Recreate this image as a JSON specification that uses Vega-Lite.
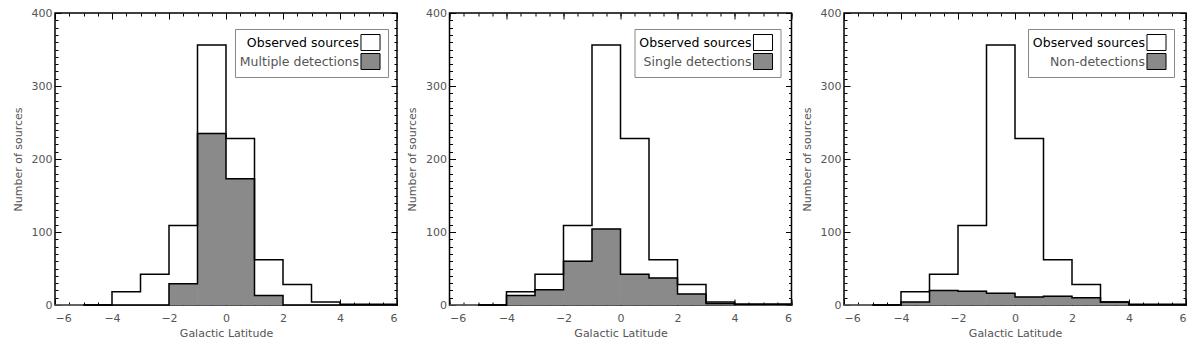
{
  "$schema": "https://vega.github.io/schema/vega-lite/v6.json",
  "background": "white",
  "padding": {"left": 11, "top": 6, "right": 0, "bottom": 0},
  "datasets": {
    "p1": [
      {"series": "Observed sources", "lo": -6, "hi": -5, "count": 0},
      {"series": "Observed sources", "lo": -5, "hi": -4, "count": 0},
      {"series": "Observed sources", "lo": -4, "hi": -3, "count": 18},
      {"series": "Observed sources", "lo": -3, "hi": -2, "count": 42},
      {"series": "Observed sources", "lo": -2, "hi": -1, "count": 109},
      {"series": "Observed sources", "lo": -1, "hi": 0, "count": 356},
      {"series": "Observed sources", "lo": 0, "hi": 1, "count": 228},
      {"series": "Observed sources", "lo": 1, "hi": 2, "count": 62},
      {"series": "Observed sources", "lo": 2, "hi": 3, "count": 28},
      {"series": "Observed sources", "lo": 3, "hi": 4, "count": 4},
      {"series": "Observed sources", "lo": 4, "hi": 5, "count": 1},
      {"series": "Observed sources", "lo": 5, "hi": 6, "count": 1},
      {"series": "Multiple detections", "lo": -6, "hi": -5, "count": 0},
      {"series": "Multiple detections", "lo": -5, "hi": -4, "count": 0},
      {"series": "Multiple detections", "lo": -4, "hi": -3, "count": 0},
      {"series": "Multiple detections", "lo": -3, "hi": -2, "count": 0},
      {"series": "Multiple detections", "lo": -2, "hi": -1, "count": 29},
      {"series": "Multiple detections", "lo": -1, "hi": 0, "count": 235},
      {"series": "Multiple detections", "lo": 0, "hi": 1, "count": 173},
      {"series": "Multiple detections", "lo": 1, "hi": 2, "count": 13},
      {"series": "Multiple detections", "lo": 2, "hi": 3, "count": 0},
      {"series": "Multiple detections", "lo": 3, "hi": 4, "count": 0},
      {"series": "Multiple detections", "lo": 4, "hi": 5, "count": 0},
      {"series": "Multiple detections", "lo": 5, "hi": 6, "count": 0}
    ],
    "p2": [
      {"series": "Observed sources", "lo": -6, "hi": -5, "count": 0},
      {"series": "Observed sources", "lo": -5, "hi": -4, "count": 0},
      {"series": "Observed sources", "lo": -4, "hi": -3, "count": 18},
      {"series": "Observed sources", "lo": -3, "hi": -2, "count": 42},
      {"series": "Observed sources", "lo": -2, "hi": -1, "count": 109},
      {"series": "Observed sources", "lo": -1, "hi": 0, "count": 356},
      {"series": "Observed sources", "lo": 0, "hi": 1, "count": 228},
      {"series": "Observed sources", "lo": 1, "hi": 2, "count": 62},
      {"series": "Observed sources", "lo": 2, "hi": 3, "count": 28},
      {"series": "Observed sources", "lo": 3, "hi": 4, "count": 4},
      {"series": "Observed sources", "lo": 4, "hi": 5, "count": 1},
      {"series": "Observed sources", "lo": 5, "hi": 6, "count": 1},
      {"series": "Single detections", "lo": -6, "hi": -5, "count": 0},
      {"series": "Single detections", "lo": -5, "hi": -4, "count": 0},
      {"series": "Single detections", "lo": -4, "hi": -3, "count": 13},
      {"series": "Single detections", "lo": -3, "hi": -2, "count": 21},
      {"series": "Single detections", "lo": -2, "hi": -1, "count": 60},
      {"series": "Single detections", "lo": -1, "hi": 0, "count": 104},
      {"series": "Single detections", "lo": 0, "hi": 1, "count": 42},
      {"series": "Single detections", "lo": 1, "hi": 2, "count": 37},
      {"series": "Single detections", "lo": 2, "hi": 3, "count": 15},
      {"series": "Single detections", "lo": 3, "hi": 4, "count": 2},
      {"series": "Single detections", "lo": 4, "hi": 5, "count": 1},
      {"series": "Single detections", "lo": 5, "hi": 6, "count": 1}
    ],
    "p3": [
      {"series": "Observed sources", "lo": -6, "hi": -5, "count": 0},
      {"series": "Observed sources", "lo": -5, "hi": -4, "count": 0},
      {"series": "Observed sources", "lo": -4, "hi": -3, "count": 18},
      {"series": "Observed sources", "lo": -3, "hi": -2, "count": 42},
      {"series": "Observed sources", "lo": -2, "hi": -1, "count": 109},
      {"series": "Observed sources", "lo": -1, "hi": 0, "count": 356},
      {"series": "Observed sources", "lo": 0, "hi": 1, "count": 228},
      {"series": "Observed sources", "lo": 1, "hi": 2, "count": 62},
      {"series": "Observed sources", "lo": 2, "hi": 3, "count": 28},
      {"series": "Observed sources", "lo": 3, "hi": 4, "count": 4},
      {"series": "Observed sources", "lo": 4, "hi": 5, "count": 1},
      {"series": "Observed sources", "lo": 5, "hi": 6, "count": 1},
      {"series": "Non-detections", "lo": -6, "hi": -5, "count": 0},
      {"series": "Non-detections", "lo": -5, "hi": -4, "count": 0},
      {"series": "Non-detections", "lo": -4, "hi": -3, "count": 4},
      {"series": "Non-detections", "lo": -3, "hi": -2, "count": 20},
      {"series": "Non-detections", "lo": -2, "hi": -1, "count": 19},
      {"series": "Non-detections", "lo": -1, "hi": 0, "count": 16},
      {"series": "Non-detections", "lo": 0, "hi": 1, "count": 11},
      {"series": "Non-detections", "lo": 1, "hi": 2, "count": 12},
      {"series": "Non-detections", "lo": 2, "hi": 3, "count": 10},
      {"series": "Non-detections", "lo": 3, "hi": 4, "count": 4},
      {"series": "Non-detections", "lo": 4, "hi": 5, "count": 0},
      {"series": "Non-detections", "lo": 5, "hi": 6, "count": 0}
    ]
  },
  "config": {
    "view": {"stroke": "black", "strokeWidth": 1.5},
    "axis": {
      "domain": false, "grid": false, "tickColor": "black", "tickWidth": 1,
      "labelColor": "#555", "labelFont": "DejaVu Sans", "labelFontSize": 11,
      "titleFont": "DejaVu Sans", "titleFontSize": 11, "titleFontWeight": "normal", "titleColor": "#555"
    },
    "legend": {
      "orient": "none", "title": null, "symbolType": "M-1.19,-1H1.19V1H-1.19Z", "symbolSize": 256,
      "symbolStrokeColor": "black", "symbolStrokeWidth": 1, "symbolOpacity": 1,
      "labelFont": "DejaVu Sans", "labelFontSize": 12.5, "labelAlign": "right", "labelOffset": -20,
      "strokeColor": "#888", "fillColor": "white", "padding": 5, "rowPadding": -8.5, "labelLimit": 300
    }
  },
  "spacing": 52.5,
  "bounds": "flush",
  "resolve": {"scale": {"fill": "independent"}, "legend": {"fill": "independent"}},
  "hconcat": [
    {
      "width": 342, "height": 292,
      "data": {"name": "p1"},
      "resolve": {"axis": {"x": "independent", "y": "independent"}},
      "layer": [
        {
          "transform": [{"filter": "datum.series == 'Observed sources'"}],
          "mark": {"type": "rect", "strokeWidth": 0},
          "encoding": {
            "x": {"field": "lo", "type": "quantitative", "scale": {"domain": [-6, 6], "nice": false, "zero": false},
                  "axis": {"orient": "bottom", "values": [-6, -4, -2, 0, 2, 4, 6], "format": "d", "tickSize": -6, "labelPadding": 13, "title": "Galactic Latitude", "titlePadding": 4}},
            "x2": {"field": "hi"},
            "y": {"field": "count", "type": "quantitative", "scale": {"domain": [0, 400], "nice": false},
                  "axis": {"orient": "left", "values": [0, 100, 200, 300, 400], "tickSize": -6, "labelPadding": 9, "title": "Number of sources", "titlePadding": 8}},
            "y2": {"datum": 0},
            "fill": {"field": "series", "type": "nominal",
                     "scale": {"domain": ["Observed sources", "Multiple detections"], "range": ["white", "#8a8a8a"]},
                     "legend": {"legendX": 180, "legendY": 16, "symbolOffset": 122, "labelOffset": -20, "rowPadding": -8.5, "symbolStrokeColor": "black",
                                "encode": {"labels": {"update": {"fill": {"signal": "datum.label == 'Observed sources' ? 'black' : '#555'"}}}}}}
          }
        },
        {
          "transform": [{"filter": "datum.series != 'Observed sources'"}],
          "mark": {"type": "rect", "stroke": "#8a8a8a", "strokeWidth": 0.6},
          "encoding": {
            "x": {"field": "lo", "type": "quantitative", "axis": {"orient": "bottom", "values": [-6, -5.5, -5, -4.5, -4, -3.5, -3, -2.5, -2, -1.5, -1, -0.5, 0, 0.5, 1, 1.5, 2, 2.5, 3, 3.5, 4, 4.5, 5, 5.5, 6], "tickSize": -3, "labels": false, "title": null}},
            "x2": {"field": "hi"},
            "y": {"field": "count", "type": "quantitative", "axis": {"orient": "left", "values": [0, 10, 20, 30, 40, 50, 60, 70, 80, 90, 100, 110, 120, 130, 140, 150, 160, 170, 180, 190, 200, 210, 220, 230, 240, 250, 260, 270, 280, 290, 300, 310, 320, 330, 340, 350, 360, 370, 380, 390, 400], "tickSize": -3, "labels": false, "title": null}},
            "y2": {"datum": 0},
            "fill": {"field": "series", "type": "nominal"}
          }
        },
        {
          "transform": [{"filter": "datum.series == 'Observed sources'"}],
          "mark": {"type": "line", "interpolate": "step-before", "color": "black", "strokeWidth": 1.5},
          "encoding": {
            "x": {"field": "hi", "type": "quantitative", "axis": {"orient": "top", "values": [-6, -4, -2, 0, 2, 4, 6], "tickSize": -6, "labels": false, "title": null}},
            "y": {"field": "count", "type": "quantitative", "axis": {"orient": "right", "values": [0, 100, 200, 300, 400], "tickSize": -6, "labels": false, "title": null}}
          }
        },
        {
          "transform": [{"filter": "datum.series != 'Observed sources'"}],
          "mark": {"type": "line", "interpolate": "step-before", "color": "black", "strokeWidth": 1.5},
          "encoding": {
            "x": {"field": "hi", "type": "quantitative", "axis": {"orient": "top", "values": [-6, -5.5, -5, -4.5, -4, -3.5, -3, -2.5, -2, -1.5, -1, -0.5, 0, 0.5, 1, 1.5, 2, 2.5, 3, 3.5, 4, 4.5, 5, 5.5, 6], "tickSize": -3, "labels": false, "title": null}},
            "y": {"field": "count", "type": "quantitative", "axis": {"orient": "right", "values": [0, 10, 20, 30, 40, 50, 60, 70, 80, 90, 100, 110, 120, 130, 140, 150, 160, 170, 180, 190, 200, 210, 220, 230, 240, 250, 260, 270, 280, 290, 300, 310, 320, 330, 340, 350, 360, 370, 380, 390, 400], "tickSize": -3, "labels": false, "title": null}}
          }
        }
      ]
    },
    {
      "width": 342, "height": 292,
      "data": {"name": "p2"},
      "resolve": {"axis": {"x": "independent", "y": "independent"}},
      "layer": [
        {
          "transform": [{"filter": "datum.series == 'Observed sources'"}],
          "mark": {"type": "rect", "strokeWidth": 0},
          "encoding": {
            "x": {"field": "lo", "type": "quantitative", "scale": {"domain": [-6, 6], "nice": false, "zero": false},
                  "axis": {"orient": "bottom", "values": [-6, -4, -2, 0, 2, 4, 6], "format": "d", "tickSize": -6, "labelPadding": 13, "title": "Galactic Latitude", "titlePadding": 4}},
            "x2": {"field": "hi"},
            "y": {"field": "count", "type": "quantitative", "scale": {"domain": [0, 400], "nice": false},
                  "axis": {"orient": "left", "values": [0, 100, 200, 300, 400], "tickSize": -6, "labelPadding": 9, "title": "Number of sources", "titlePadding": 8}},
            "y2": {"datum": 0},
            "fill": {"field": "series", "type": "nominal",
                     "scale": {"domain": ["Observed sources", "Single detections"], "range": ["white", "#8a8a8a"]},
                     "legend": {"legendX": 185, "legendY": 16, "symbolOffset": 115, "labelOffset": -20, "rowPadding": -8.5, "symbolStrokeColor": "black",
                                "encode": {"labels": {"update": {"fill": {"signal": "datum.label == 'Observed sources' ? 'black' : '#555'"}}}}}}
          }
        },
        {
          "transform": [{"filter": "datum.series != 'Observed sources'"}],
          "mark": {"type": "rect", "stroke": "#8a8a8a", "strokeWidth": 0.6},
          "encoding": {
            "x": {"field": "lo", "type": "quantitative", "axis": {"orient": "bottom", "values": [-6, -5.5, -5, -4.5, -4, -3.5, -3, -2.5, -2, -1.5, -1, -0.5, 0, 0.5, 1, 1.5, 2, 2.5, 3, 3.5, 4, 4.5, 5, 5.5, 6], "tickSize": -3, "labels": false, "title": null}},
            "x2": {"field": "hi"},
            "y": {"field": "count", "type": "quantitative", "axis": {"orient": "left", "values": [0, 10, 20, 30, 40, 50, 60, 70, 80, 90, 100, 110, 120, 130, 140, 150, 160, 170, 180, 190, 200, 210, 220, 230, 240, 250, 260, 270, 280, 290, 300, 310, 320, 330, 340, 350, 360, 370, 380, 390, 400], "tickSize": -3, "labels": false, "title": null}},
            "y2": {"datum": 0},
            "fill": {"field": "series", "type": "nominal"}
          }
        },
        {
          "transform": [{"filter": "datum.series == 'Observed sources'"}],
          "mark": {"type": "line", "interpolate": "step-before", "color": "black", "strokeWidth": 1.5},
          "encoding": {
            "x": {"field": "hi", "type": "quantitative", "axis": {"orient": "top", "values": [-6, -4, -2, 0, 2, 4, 6], "tickSize": -6, "labels": false, "title": null}},
            "y": {"field": "count", "type": "quantitative", "axis": {"orient": "right", "values": [0, 100, 200, 300, 400], "tickSize": -6, "labels": false, "title": null}}
          }
        },
        {
          "transform": [{"filter": "datum.series != 'Observed sources'"}],
          "mark": {"type": "line", "interpolate": "step-before", "color": "black", "strokeWidth": 1.5},
          "encoding": {
            "x": {"field": "hi", "type": "quantitative", "axis": {"orient": "top", "values": [-6, -5.5, -5, -4.5, -4, -3.5, -3, -2.5, -2, -1.5, -1, -0.5, 0, 0.5, 1, 1.5, 2, 2.5, 3, 3.5, 4, 4.5, 5, 5.5, 6], "tickSize": -3, "labels": false, "title": null}},
            "y": {"field": "count", "type": "quantitative", "axis": {"orient": "right", "values": [0, 10, 20, 30, 40, 50, 60, 70, 80, 90, 100, 110, 120, 130, 140, 150, 160, 170, 180, 190, 200, 210, 220, 230, 240, 250, 260, 270, 280, 290, 300, 310, 320, 330, 340, 350, 360, 370, 380, 390, 400], "tickSize": -3, "labels": false, "title": null}}
          }
        }
      ]
    },
    {
      "width": 342, "height": 292,
      "data": {"name": "p3"},
      "resolve": {"axis": {"x": "independent", "y": "independent"}},
      "layer": [
        {
          "transform": [{"filter": "datum.series == 'Observed sources'"}],
          "mark": {"type": "rect", "strokeWidth": 0},
          "encoding": {
            "x": {"field": "lo", "type": "quantitative", "scale": {"domain": [-6, 6], "nice": false, "zero": false},
                  "axis": {"orient": "bottom", "values": [-6, -4, -2, 0, 2, 4, 6], "format": "d", "tickSize": -6, "labelPadding": 13, "title": "Galactic Latitude", "titlePadding": 4}},
            "x2": {"field": "hi"},
            "y": {"field": "count", "type": "quantitative", "scale": {"domain": [0, 400], "nice": false},
                  "axis": {"orient": "left", "values": [0, 100, 200, 300, 400], "tickSize": -6, "labelPadding": 9, "title": "Number of sources", "titlePadding": 8}},
            "y2": {"datum": 0},
            "fill": {"field": "series", "type": "nominal",
                     "scale": {"domain": ["Observed sources", "Non-detections"], "range": ["white", "#8a8a8a"]},
                     "legend": {"legendX": 184, "legendY": 16, "symbolOffset": 115, "labelOffset": -20, "rowPadding": -8.5, "symbolStrokeColor": "black",
                                "encode": {"labels": {"update": {"fill": {"signal": "datum.label == 'Observed sources' ? 'black' : '#555'"}}}}}}
          }
        },
        {
          "transform": [{"filter": "datum.series != 'Observed sources'"}],
          "mark": {"type": "rect", "stroke": "#8a8a8a", "strokeWidth": 0.6},
          "encoding": {
            "x": {"field": "lo", "type": "quantitative", "axis": {"orient": "bottom", "values": [-6, -5.5, -5, -4.5, -4, -3.5, -3, -2.5, -2, -1.5, -1, -0.5, 0, 0.5, 1, 1.5, 2, 2.5, 3, 3.5, 4, 4.5, 5, 5.5, 6], "tickSize": -3, "labels": false, "title": null}},
            "x2": {"field": "hi"},
            "y": {"field": "count", "type": "quantitative", "axis": {"orient": "left", "values": [0, 10, 20, 30, 40, 50, 60, 70, 80, 90, 100, 110, 120, 130, 140, 150, 160, 170, 180, 190, 200, 210, 220, 230, 240, 250, 260, 270, 280, 290, 300, 310, 320, 330, 340, 350, 360, 370, 380, 390, 400], "tickSize": -3, "labels": false, "title": null}},
            "y2": {"datum": 0},
            "fill": {"field": "series", "type": "nominal"}
          }
        },
        {
          "transform": [{"filter": "datum.series == 'Observed sources'"}],
          "mark": {"type": "line", "interpolate": "step-before", "color": "black", "strokeWidth": 1.5},
          "encoding": {
            "x": {"field": "hi", "type": "quantitative", "axis": {"orient": "top", "values": [-6, -4, -2, 0, 2, 4, 6], "tickSize": -6, "labels": false, "title": null}},
            "y": {"field": "count", "type": "quantitative", "axis": {"orient": "right", "values": [0, 100, 200, 300, 400], "tickSize": -6, "labels": false, "title": null}}
          }
        },
        {
          "transform": [{"filter": "datum.series != 'Observed sources'"}],
          "mark": {"type": "line", "interpolate": "step-before", "color": "black", "strokeWidth": 1.5},
          "encoding": {
            "x": {"field": "hi", "type": "quantitative", "axis": {"orient": "top", "values": [-6, -5.5, -5, -4.5, -4, -3.5, -3, -2.5, -2, -1.5, -1, -0.5, 0, 0.5, 1, 1.5, 2, 2.5, 3, 3.5, 4, 4.5, 5, 5.5, 6], "tickSize": -3, "labels": false, "title": null}},
            "y": {"field": "count", "type": "quantitative", "axis": {"orient": "right", "values": [0, 10, 20, 30, 40, 50, 60, 70, 80, 90, 100, 110, 120, 130, 140, 150, 160, 170, 180, 190, 200, 210, 220, 230, 240, 250, 260, 270, 280, 290, 300, 310, 320, 330, 340, 350, 360, 370, 380, 390, 400], "tickSize": -3, "labels": false, "title": null}}
          }
        }
      ]
    }
  ]
}
